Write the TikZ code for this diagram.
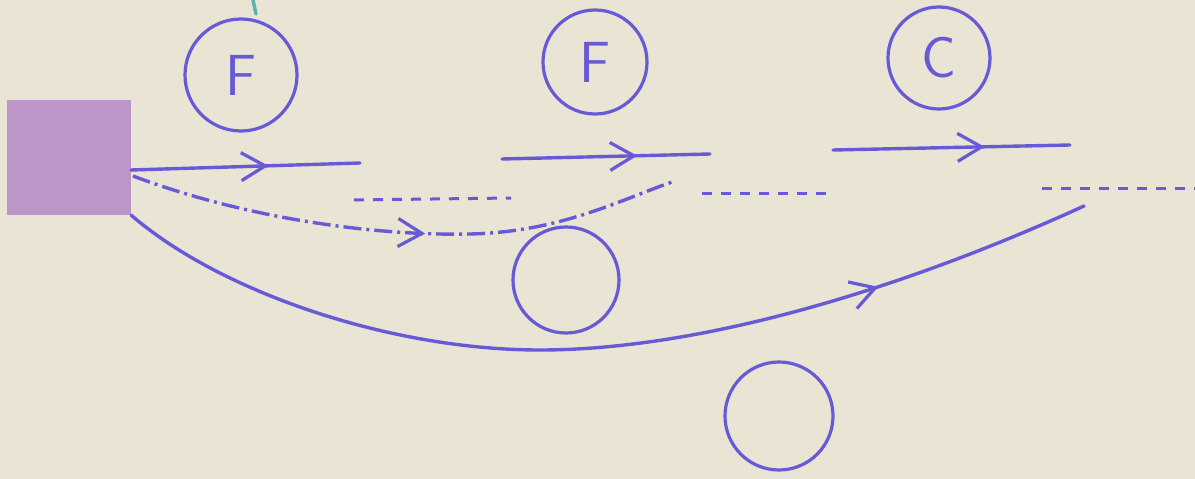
\documentclass[tikz,border=0pt]{standalone}
\usepackage{fontspec}
\usetikzlibrary{arrows.meta,decorations.markings}
\definecolor{ink}{RGB}{104,90,214}
\definecolor{paper}{RGB}{233,228,212}
\definecolor{sqfill}{RGB}{188,150,200}
\definecolor{tealink}{RGB}{90,180,170}
\begin{document}
\begin{tikzpicture}[x=1pt,y=-1pt,
  inkline/.style={draw=ink, line width=3.4pt, line cap=round},
  dashline/.style={draw=ink, line width=3pt, dash pattern=on 10pt off 9pt},
  dashdot/.style={draw=ink, line width=3.4pt, dash pattern=on 18pt off 5pt on 3pt off 5pt},
  ring/.style={circle, draw=ink, line width=3.2pt, inner sep=0pt, text=ink,
    font=\sffamily\fontsize{58}{58}\selectfont},
  midarrow/.style={postaction=decorate, decoration={markings,
    mark=at position #1 with {\arrow[ink, line width=3.2pt]{Straight Barb[length=24pt,width=28pt]}}}}]
\fill[paper] (0,0) rectangle (1195,479);
\useasboundingbox (0,0) rectangle (1195,479);
% teal mark at top
\draw[tealink, line width=3.4pt, line cap=round] (253,0) -- (256,14);
% source square
\node[fill=sqfill, minimum width=124pt, minimum height=115pt, inner sep=0pt, anchor=north west] (src) at (7,100) {};
% labelled and empty circles
\node[ring, minimum size=112pt] (f1) at (241,75) {F};
\node[ring, minimum size=104pt] (f2) at (595,62) {F};
\node[ring, minimum size=102pt] (c1) at (939,58) {C};
\node[ring, minimum size=106pt] (o1) at (566,280) {};
\node[ring, minimum size=108pt] (o2) at (779,416) {};
% coordinates
\coordinate (a1) at (131,170);
\coordinate (a2) at (360,163);
\coordinate (b1) at (502,159);
\coordinate (b2) at (710,154);
\coordinate (c1s) at (833,150);
\coordinate (c2s) at (1070,145);
\coordinate (d1) at (354,200);
\coordinate (d2) at (511,198);
\coordinate (e1) at (702,193);
\coordinate (e2) at (831,193);
\coordinate (g1) at (1042,188);
\coordinate (g2) at (1195,188);
\coordinate (ka) at (133,176);
\coordinate (kb) at (470,234);
\coordinate (kc) at (672,182);
\coordinate (ma) at (131,215);
\coordinate (mb) at (540,350);
\coordinate (mc) at (1084,206);
% solid lines with arrows
\draw[inkline, midarrow=0.6] (a1) -- (a2);
\draw[inkline, midarrow=0.65] (b1) -- (b2);
\draw[inkline, midarrow=0.64] (c1s) -- (c2s);
% dashed lines
\draw[dashline] (d1) -- (d2);
\draw[dashline] (e1) -- (e2);
\draw[dashline] (g1) -- (g2);
% curved lines
\draw[dashdot, midarrow=0.54] (ka) .. controls (250,220) and (380,236) .. (kb)
  .. controls (560,232) and (620,200) .. (kc);
\draw[inkline, midarrow=0.78] (ma) .. controls (220,292) and (390,350) .. (mb)
  .. controls (700,350) and (900,290) .. (mc);
\end{tikzpicture}
\end{document}
